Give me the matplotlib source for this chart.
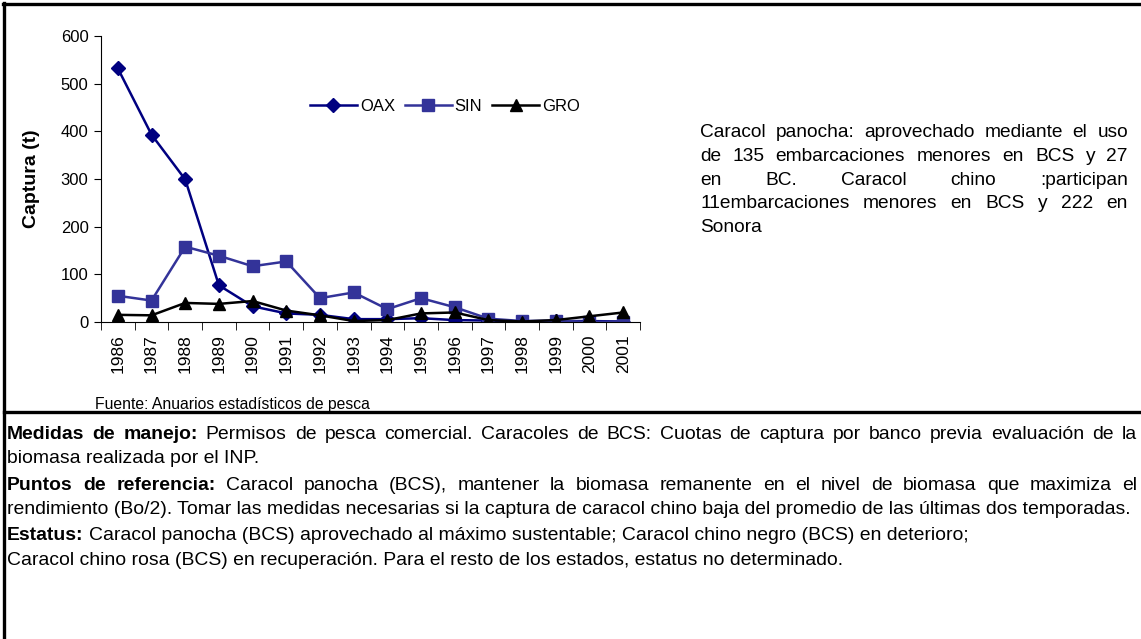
import matplotlib
matplotlib.use('Agg')
import matplotlib.pyplot as plt
from matplotlib.lines import Line2D

plt.rcParams['font.family'] = ['Liberation Sans', 'DejaVu Sans']

years = [str(y) for y in range(1986, 2002)]
oax = [532, 393, 299, 77, 33, 18, 15, 6, 6, 8, 4, 3, 1, 2, 2, 1]
sin = [55, 45, 158, 139, 117, 127, 50, 62, 27, 50, 31, 7, 2, 3, 0, 1]
gro = [15, 14, 40, 38, 44, 24, 14, 2, 4, 18, 20, 4, 1, 4, 12, 20]

side_lines = [
    "Caracol panocha: aprovechado mediante el uso",
    "de 135 embarcaciones menores en BCS y 27",
    "en BC. Caracol chino :participan",
    "11embarcaciones menores en BCS y 222 en",
    "Sonora",
]
bottom_lines = [
    [("Medidas de manejo:", True), ("Permisos de pesca comercial. Caracoles de BCS: Cuotas de captura por banco previa evaluación de la", False)],
    [("biomasa realizada por el INP.", False)],
    [("Puntos de referencia:", True), ("Caracol panocha (BCS), mantener la biomasa remanente en el nivel de biomasa que maximiza el", False)],
    [("rendimiento (Bo/2). Tomar las medidas necesarias si la captura de caracol chino baja del promedio de las últimas dos temporadas.", False)],
    [("Estatus:", True), ("Caracol panocha (BCS) aprovechado al máximo sustentable; Caracol chino negro (BCS) en deterioro;", False)],
    [("Caracol chino rosa (BCS) en recuperación. Para el resto de los estados, estatus no determinado.", False)],
]
bottom_justify = [True, False, True, False, False, False]
bottom_y = [434, 458, 485, 509, 535, 560]

W, H = 1141, 639
fig = plt.figure(figsize=(W / 100, H / 100), dpi=100)
fig.patch.set_facecolor('white')

ax = fig.add_axes([101 / W, 1 - 322 / H, (640 - 101) / W, (322 - 36) / H])
x = list(range(len(years)))
ax.plot(x, oax, color='#000080', lw=1.8, marker='D', ms=7, label='OAX')
ax.plot(x, sin, color='#333399', lw=1.8, marker='s', ms=9, label='SIN')
ax.plot(x, gro, color='black', lw=1.8, marker='^', ms=8, label='GRO')

ax.set_xlim(-0.5, len(years) - 0.5)
ax.set_ylim(0, 600)
ax.set_yticks(range(0, 601, 100))
ax.tick_params(axis='y', labelsize=12, length=5, direction='out', pad=4)
ax.set_xticks(x)
ax.set_xticklabels(years, rotation=90, fontsize=12.5)
ax.tick_params(axis='x', length=0, pad=9)
ax.set_xticks([i - 0.5 for i in range(len(years) + 1)], minor=True)
ax.tick_params(axis='x', which='minor', length=6, direction='out')
for s in ['top', 'right']:
    ax.spines[s].set_visible(False)
ax.set_ylabel('Captura (t)', fontsize=14, fontweight='bold')
ax.yaxis.set_label_coords(-0.113, 0.5)
ax.legend(loc='center left', bbox_to_anchor=(0.388, 0.755), ncol=3, frameon=False,
          fontsize=12, handlelength=2.8, handletextpad=0.18, columnspacing=0.6,
          borderaxespad=0, borderpad=0)

fig.text(95 / W, 1 - 405 / H, 'Fuente: Anuarios estadísticos de pesca',
         fontsize=11.3, va='center')

renderer = fig.canvas.get_renderer()


def draw_line(ypix, pieces, x0, x1, justify, size):
    yf = 1 - (ypix + 5) / H
    if not justify:
        # plain line: each piece as one string
        cx = x0
        for txt, bold in pieces:
            t = fig.text(cx / W, yf, txt, fontsize=size, va='baseline',
                         fontweight='bold' if bold else 'normal')
            cx += t.get_window_extent(renderer).width + 0.28 * size * 100 / 72
        return
    words = []
    for txt, bold in pieces:
        for w in txt.split():
            words.append((w, bold))
    objs = []
    for w, bold in words:
        t = fig.text(0, yf, w, fontsize=size, va='baseline',
                     fontweight='bold' if bold else 'normal')
        objs.append(t)
    widths = [t.get_window_extent(renderer).width for t in objs]
    gap = (x1 - x0 - sum(widths)) / (len(words) - 1)
    cx = x0
    for t, wd in zip(objs, widths):
        t.set_x(cx / W)
        cx += wd + gap


for i, line in enumerate(side_lines):
    draw_line(132 + i * 23.8, [(line, False)], 700, 1128, i < 4, 13.8)

for i, pieces in enumerate(bottom_lines):
    draw_line(bottom_y[i], pieces, 7, 1137, bottom_justify[i], 13.95)

# frame lines
lw = 2.4
fig.add_artist(Line2D([3 / W, 1], [1 - 4 / H, 1 - 4 / H], color='black', lw=lw, transform=fig.transFigure))
fig.add_artist(Line2D([4 / W, 4 / W], [0, 1 - 3 / H], color='black', lw=lw, transform=fig.transFigure))
fig.add_artist(Line2D([4 / W, 1], [1 - 412 / H, 1 - 412 / H], color='black', lw=lw, transform=fig.transFigure))

fig.savefig('out.png', dpi=100)
